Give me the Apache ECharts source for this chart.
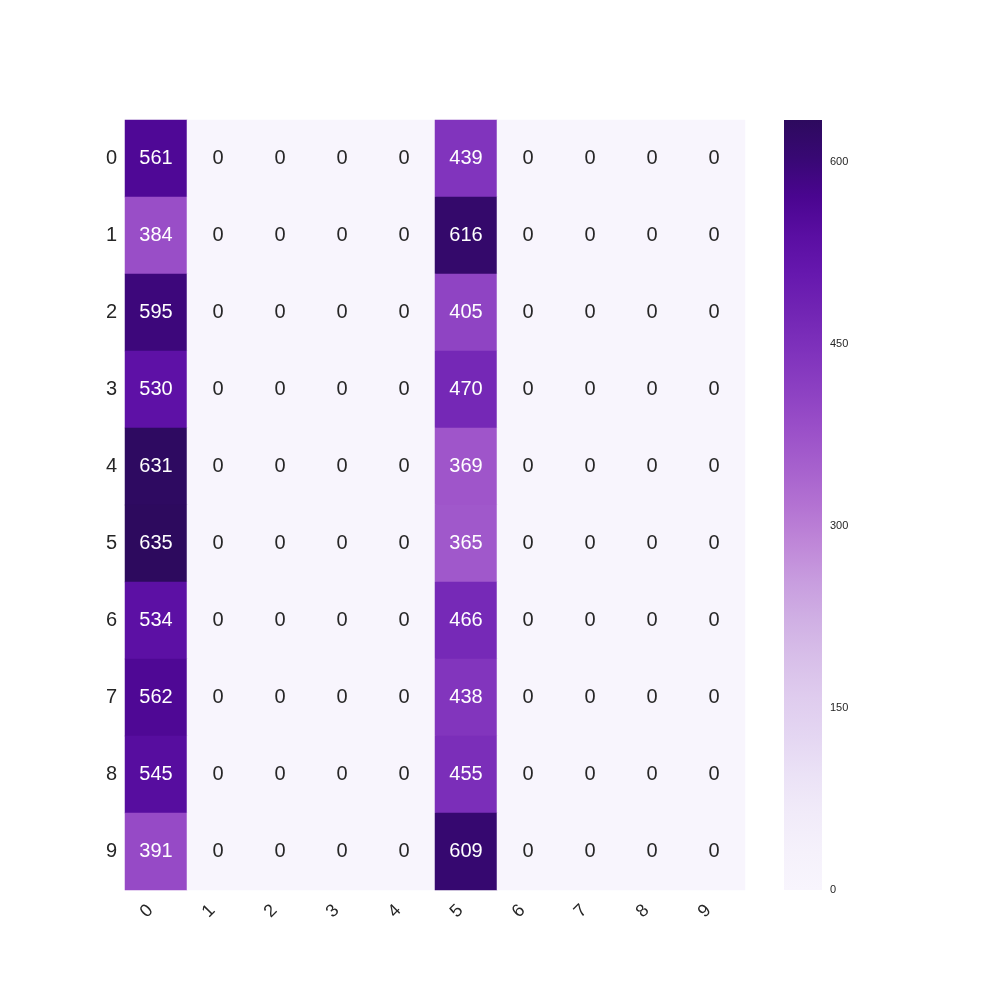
<!DOCTYPE html>
<html><head><meta charset="utf-8">
<script src="https://cdn.jsdelivr.net/npm/echarts@6/dist/echarts.min.js"></script>
<style>html,body{margin:0;padding:0;background:#fff}#c{width:1000px;height:1000px}</style>
</head><body><div id="c"></div>
<script>
var xLabels = ['0','1','2','3','4','5','6','7','8','9'];
var yLabels = ['0','1','2','3','4','5','6','7','8','9'];
var col0 = [561,384,595,530,631,635,534,562,545,391];
var col5 = [439,616,405,470,369,365,466,438,455,609];
var colorbarTicks = [0,150,300,450,600];
var vmax = 635;
var palette = ['#f8f5fd','#f5f1fb','#f1ebf9','#ebe2f6','#e4d6f2','#dfccee','#d8bfe9',
  '#d0b0e4','#c89ddf','#bf87d8','#b372d2','#a660cd','#9a4fc8','#8c40c2','#7f32bc',
  '#7225b4','#6618ae','#5a0ea2','#4a0590','#380874','#2d0a5e'];

var data = [];
for (var r = 0; r < 10; r++) {
  for (var c = 0; c < 10; c++) {
    var v = c === 0 ? col0[r] : (c === 5 ? col5[r] : 0);
    data.push({value: [c, r, v], label: {color: v > 300 ? '#ffffff' : '#262626'}});
  }
}
var stops = palette.map(function (col, i) {
  return {offset: 1 - i / (palette.length - 1), color: col};
});
var chart = echarts.init(document.getElementById('c'));
chart.setOption({
  backgroundColor: '#fff',
  animation: false,
  grid: [
    {left: 125, top: 120, width: 620, height: 770},
    {left: 784, top: 120, width: 38, height: 770}
  ],
  xAxis: [
    {type: 'category', data: xLabels, gridIndex: 0, position: 'bottom',
     axisLine: {show: false}, axisTick: {show: false}, splitLine: {show: false},
     axisLabel: {rotate: 45, color: '#262626', fontSize: 18, margin: 12, padding: [0, 8, 0, 0], fontFamily: 'Liberation Sans, Arial'}},
    {type: 'value', gridIndex: 1, show: false, min: 0, max: 1}
  ],
  yAxis: [
    {type: 'category', data: yLabels, gridIndex: 0, inverse: true,
     axisLine: {show: false}, axisTick: {show: false}, splitLine: {show: false},
     axisLabel: {color: '#262626', fontSize: 20, margin: 8, padding: [4, 0, 0, 0], fontFamily: 'Liberation Sans, Arial'}},
    {type: 'value', gridIndex: 1, position: 'right', min: 0, max: vmax, interval: 150,
     axisLine: {show: false}, axisTick: {show: false}, splitLine: {show: false},
     axisLabel: {color: '#262626', fontSize: 11, margin: 8, fontFamily: 'Liberation Sans, Arial',
       formatter: function (v) { return colorbarTicks.indexOf(v) >= 0 ? String(v) : ''; }}}
  ],
  visualMap: {
    type: 'continuous', min: 0, max: vmax, seriesIndex: 0, show: false,
    inRange: {color: palette}
  },
  graphic: [{
    type: 'rect', left: 784, top: 120, z: 0,
    shape: {width: 38, height: 770},
    style: {fill: new echarts.graphic.LinearGradient(0, 0, 0, 1, stops)}
  }],
  series: [{
    type: 'heatmap', xAxisIndex: 0, yAxisIndex: 0, data: data,
    label: {show: true, fontSize: 20, fontFamily: 'Liberation Sans, Arial',
      formatter: function (p) { return String(p.value[2]); }},
    itemStyle: {borderWidth: 0}
  }]
});
</script></body></html>
